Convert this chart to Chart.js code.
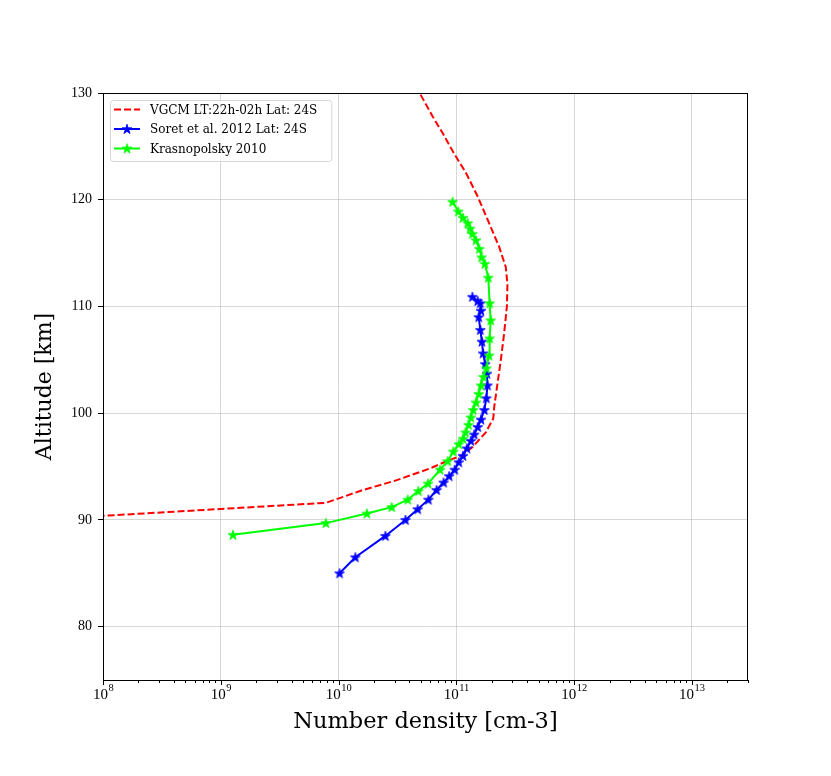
<!DOCTYPE html>
<html>
<head>
<meta charset="utf-8">
<script src="https://cdn.jsdelivr.net/npm/chart.js@4"></script>
<style>
  html, body { margin: 0; padding: 0; background: #fff; }
  #wrap { width: 831px; height: 776px; }
</style>
</head>
<body>
<div id="wrap"><canvas id="chart" width="831" height="776"></canvas></div>
<script>
// Dados (altitude em km, densidade em cm-3)
const vgcmAlt = [90.35, 91.6, 92.8, 93.7, 94.8, 95.6, 96.0, 96.8, 98.2, 99.5, 100.6, 102.8, 105.0, 107.5, 110.0, 112.1, 113.7, 115.6, 117.8, 120.3, 122.5, 124.3, 126.2, 127.8, 129.8, 130.5];
const vgcmDens = [9e7, 7.8e9, 1.61e10, 3.08e10, 5.9e10, 8.7e10, 1.1e11, 1.37e11, 1.78e11, 2.06e11, 2.1e11, 2.24e11, 2.39e11, 2.55e11, 2.69e11, 2.72e11, 2.63e11, 2.31e11, 1.9e11, 1.52e11, 1.21e11, 9.6e10, 7.7e10, 6.3e10, 5.0e10, 4.6e10];

const soretAlt = [85.0, 86.5, 88.5, 90.0, 91.0, 91.9, 92.8, 93.5, 94.1, 94.7, 95.4, 96.0, 96.7, 97.4, 98.0, 98.7, 99.4, 100.3, 101.4, 102.6, 103.7, 104.6, 105.6, 106.7, 107.8, 109.0, 109.6, 110.3, 110.5, 110.9];
const soretDens = [1.02e10, 1.39e10, 2.5e10, 3.7e10, 4.7e10, 5.8e10, 6.8e10, 7.8e10, 8.7e10, 9.7e10, 1.05e11, 1.14e11, 1.23e11, 1.33e11, 1.42e11, 1.52e11, 1.62e11, 1.73e11, 1.8e11, 1.84e11, 1.82e11, 1.76e11, 1.69e11, 1.65e11, 1.6e11, 1.55e11, 1.62e11, 1.6e11, 1.52e11, 1.37e11];

const krasAlt = [88.6, 89.7, 90.6, 91.2, 91.9, 92.7, 93.4, 94.7, 95.5, 96.4, 97.1, 97.6, 98.2, 98.9, 99.6, 100.3, 101.0, 101.8, 102.6, 103.4, 104.2, 105.4, 107.0, 108.7, 110.3, 112.7, 114.0, 114.6, 115.4, 116.2, 116.8, 117.3, 117.8, 118.3, 118.9, 119.8];
const krasDens = [1.27e9, 7.8e9, 1.74e10, 2.83e10, 3.87e10, 4.76e10, 5.75e10, 7.28e10, 8.44e10, 9.43e10, 1.05e11, 1.14e11, 1.2e11, 1.27e11, 1.33e11, 1.39e11, 1.47e11, 1.55e11, 1.62e11, 1.7e11, 1.8e11, 1.9e11, 1.92e11, 1.96e11, 1.92e11, 1.87e11, 1.75e11, 1.64e11, 1.57e11, 1.47e11, 1.37e11, 1.31e11, 1.25e11, 1.14e11, 1.04e11, 9.3e10];

const yTicks = [80, 90, 100, 110, 120, 130];
const xDecades = [8, 9, 10, 11, 12, 13];

const labels = ['VGCM LT:22h-02h Lat: 24S', 'Soret et al. 2012 Lat: 24S', 'Krasnopolsky 2010'];
const colors = ['#ff0000', '#0000ff', '#00ff00'];

const serif = '"DejaVu Serif", serif';
const tickFont = '"Liberation Serif", serif';

// Estrela preenchida tipo marcador '*' do matplotlib
function makeStar(color) {
    const s = 12;
    const c = document.createElement('canvas');
    c.width = s; c.height = s;
    const g = c.getContext('2d');
    const R = 5.2, r = R * 0.382;
    g.beginPath();
    for (let i = 0; i < 10; i++) {
        const rad = i % 2 === 0 ? R : r;
        const a = -Math.PI / 2 + i * Math.PI / 5;
        const px = s / 2 + rad * Math.cos(a), py = s / 2 + 0.4 + rad * Math.sin(a);
        i === 0 ? g.moveTo(px, py) : g.lineTo(px, py);
    }
    g.closePath();
    g.fillStyle = color;
    g.fill();
    g.lineWidth = 0.8;
    g.strokeStyle = color;
    g.stroke();
    return c;
}

const stars = [null, makeStar(colors[1]), makeStar(colors[2])];

const toPoints = (xs, ys) => xs.map((v, i) => ({ x: v, y: ys[i] }));

function isDecade(v) {
    const l = Math.log10(v);
    return Math.abs(l - Math.round(l)) < 1e-9;
}

// Ticks do eixo x, rótulos 10^n, moldura e legenda
const framePlugin = {
    id: 'frame',
    afterDraw(chart) {
        const ctx = chart.ctx;
        const area = chart.chartArea;
        const xs = chart.scales.x;
        ctx.save();
        ctx.strokeStyle = '#000';
        ctx.lineWidth = 1;
        ctx.strokeRect(area.left + 0.5, area.top + 0.5, area.right - area.left - 1, area.bottom - area.top);

        xs.ticks.forEach(t => {
            const px = Math.round(xs.getPixelForValue(t.value)) + 0.5;
            const len = isDecade(t.value) ? 5 : 3;
            ctx.beginPath();
            ctx.moveTo(px, area.bottom);
            ctx.lineTo(px, area.bottom + len);
            ctx.stroke();
        });

        ctx.fillStyle = '#000';
        ctx.textBaseline = 'alphabetic';
        xDecades.forEach(d => {
            const px = xs.getPixelForValue(Math.pow(10, d));
            ctx.font = '15px ' + tickFont;
            const w1 = ctx.measureText('10').width;
            ctx.font = '10.5px ' + tickFont;
            const w2 = ctx.measureText(String(d)).width;
            const x0 = px - (w1 + w2) / 2;
            ctx.font = '15px ' + tickFont;
            ctx.fillText('10', x0, area.bottom + 18.5);
            ctx.font = '10.5px ' + tickFont;
            ctx.fillText(String(d), x0 + w1 + 0.5, area.bottom + 11);
        });

        // Legenda dentro da área do gráfico
        ctx.font = '12px ' + serif;
        const textW = Math.max(...labels.map(l => ctx.measureText(l).width));
        const bx = area.left + 7.5, by = area.top + 7.5;
        const bw = 47 + textW + 7, bh = 61;
        ctx.beginPath();
        ctx.roundRect(bx, by, bw, bh, 3);
        ctx.fillStyle = 'rgba(255,255,255,0.8)';
        ctx.fill();
        ctx.strokeStyle = '#d6d6d6';
        ctx.stroke();
        labels.forEach((l, i) => {
            const ry = area.top + 16.5 + i * 19.5;
            ctx.strokeStyle = colors[i];
            ctx.lineWidth = 2;
            ctx.setLineDash(i === 0 ? [7, 3] : []);
            ctx.beginPath();
            ctx.moveTo(area.left + 11, ry);
            ctx.lineTo(area.left + 37, ry);
            ctx.stroke();
            ctx.setLineDash([]);
            if (stars[i]) ctx.drawImage(stars[i], area.left + 24 - 6, ry - 6);
            ctx.fillStyle = '#000';
            ctx.textBaseline = 'middle';
            ctx.fillText(l, area.left + 47, ry + 1);
        });
        ctx.restore();
    }
};

new Chart(document.getElementById('chart'), {
    type: 'scatter',
    data: {
        datasets: [
            {
                label: labels[0],
                data: toPoints(vgcmDens, vgcmAlt),
                showLine: true,
                borderColor: colors[0],
                borderWidth: 2,
                borderDash: [7, 3],
                pointRadius: 0,
                order: 3
            },
            {
                label: labels[1],
                data: toPoints(soretDens, soretAlt),
                showLine: true,
                borderColor: colors[1],
                backgroundColor: colors[1],
                borderWidth: 2,
                pointStyle: stars[1],
                order: 2
            },
            {
                label: labels[2],
                data: toPoints(krasDens, krasAlt),
                showLine: true,
                borderColor: colors[2],
                backgroundColor: colors[2],
                borderWidth: 2,
                pointStyle: stars[2],
                order: 1
            }
        ]
    },
    options: {
        responsive: false,
        animation: false,
        devicePixelRatio: 1,
        layout: { padding: { top: 93, right: 83, left: 0, bottom: 0 } },
        plugins: { legend: { display: false }, tooltip: { enabled: false } },
        scales: {
            x: {
                type: 'logarithmic',
                min: 1e8,
                max: 3e13,
                afterFit: s => { s.height = 96; },
                afterBuildTicks: s => {
                    const t = [];
                    xDecades.forEach(d => {
                        for (let m = 1; m <= 9; m++) {
                            const v = m * Math.pow(10, d);
                            if (v >= 1e8 && v <= 3e13) t.push({ value: v });
                        }
                    });
                    s.ticks = t;
                },
                border: { display: false },
                grid: {
                    color: c => (c.tick && isDecade(c.tick.value)) ? 'rgba(176,176,176,0.5)' : 'rgba(0,0,0,0)',
                    lineWidth: 1,
                    drawTicks: false
                },
                ticks: { callback: () => '', autoSkip: false, maxRotation: 0 },
                title: {
                    display: true,
                    text: 'Number density [cm-3]',
                    color: '#000',
                    font: { family: serif, size: 22.5 },
                    padding: { bottom: 40, top: 0 }
                }
            },
            y: {
                min: 75,
                max: 130,
                afterFit: s => { s.width = 103; },
                afterBuildTicks: s => { s.ticks = yTicks.map(v => ({ value: v })); },
                border: { display: false },
                grid: {
                    color: 'rgba(176,176,176,0.5)',
                    lineWidth: 1,
                    tickColor: '#000',
                    tickLength: 5
                },
                ticks: {
                    color: '#000',
                    font: { family: tickFont, size: 14 },
                    padding: 6
                },
                title: {
                    display: true,
                    text: 'Altitude [km]',
                    color: '#000',
                    font: { family: serif, size: 22 },
                    padding: { top: 32, bottom: 0 }
                }
            }
        }
    },
    plugins: [framePlugin]
});
</script>
</body>
</html>
